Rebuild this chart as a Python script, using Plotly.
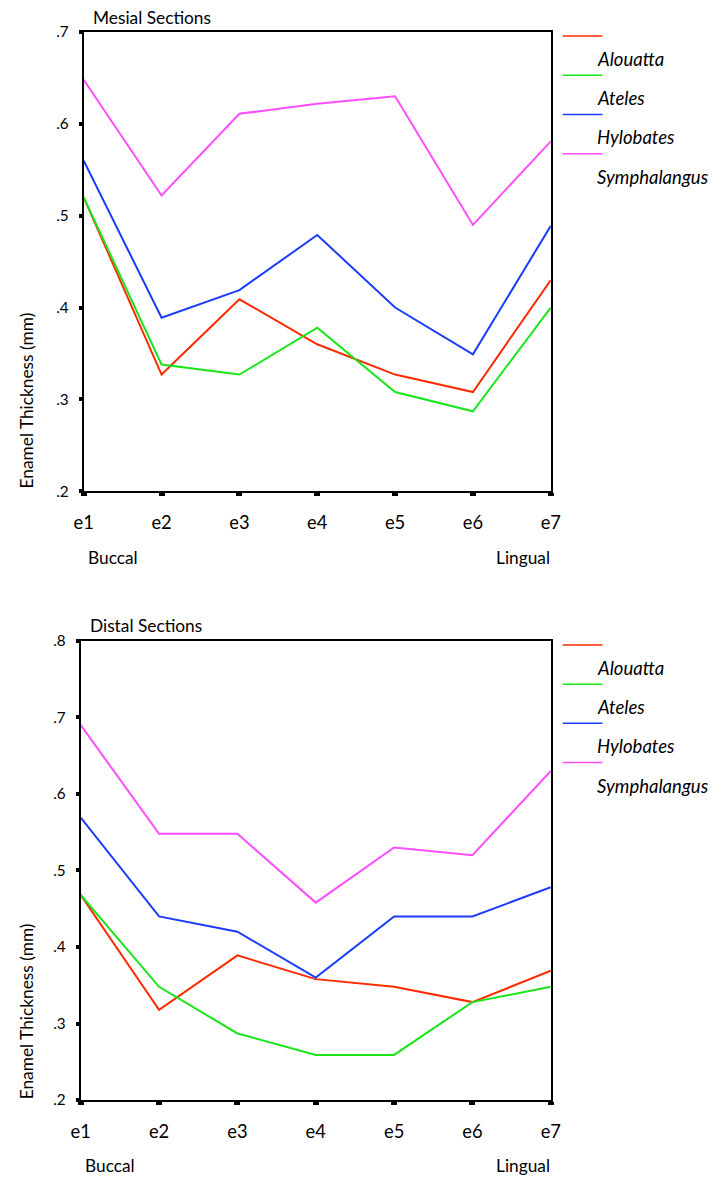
import plotly.graph_objects as go

# Enamel thickness (mm) at seven sites from buccal (e1) to lingual (e7)
sites = ["e1", "e2", "e3", "e4", "e5", "e6", "e7"]
species = ["Alouatta", "Ateles", "Hylobates", "Symphalangus"]
colors = ["#ff2a00", "#19e619", "#1a3cff", "#ff4dff"]

mesial_alouatta = [0.52, 0.327, 0.409, 0.36, 0.327, 0.308, 0.43]
mesial_ateles = [0.52, 0.338, 0.327, 0.378, 0.308, 0.287, 0.40]
mesial_hylobates = [0.56, 0.389, 0.419, 0.479, 0.40, 0.349, 0.489]
mesial_symphalangus = [0.648, 0.522, 0.611, 0.622, 0.63, 0.49, 0.581]

distal_alouatta = [0.468, 0.318, 0.389, 0.358, 0.348, 0.328, 0.369]
distal_ateles = [0.468, 0.348, 0.287, 0.259, 0.259, 0.328, 0.348]
distal_hylobates = [0.569, 0.44, 0.42, 0.36, 0.44, 0.44, 0.478]
distal_symphalangus = [0.69, 0.548, 0.548, 0.458, 0.53, 0.52, 0.63]

mesial_ticks = [0.2, 0.3, 0.4, 0.5, 0.6, 0.7]
distal_ticks = [0.2, 0.3, 0.4, 0.5, 0.6, 0.7, 0.8]

# figure size, body margin of the page, and page-to-view scale
W, H = 715, 1183
PAD = 8
SX, SY = W / (W + 2 * PAD), H / (H + 2 * PAD)
FS = 1 / ((SX + SY) / 2)
FONT = "Lato, 'Open Sans', sans-serif"


def px_x(p):
    return (p / SX - PAD) / W


def px_y(p):
    return 1 - (p / SY - PAD) / H


def f(size):
    return dict(family=FONT, size=size * FS, color="black")


fig = go.Figure()

panels = [
    dict(name="Mesial Sections", series=[mesial_alouatta, mesial_ateles, mesial_hylobates, mesial_symphalangus],
         ticks=mesial_ticks, left=82, right=552, top=30, bottom=490, ytitle=399, xa="x", ya="y"),
    dict(name="Distal Sections", series=[distal_alouatta, distal_ateles, distal_hylobates, distal_symphalangus],
         ticks=distal_ticks, left=79, right=552, top=640, bottom=1100, ytitle=1011, xa="x2", ya="y2"),
]

xpos = list(range(len(sites)))
annotations = []
shapes = []

for i, pnl in enumerate(panels):
    for vals, sp, col in zip(pnl["series"], species, colors):
        fig.add_trace(go.Scatter(x=xpos, y=vals, mode="lines", name=sp,
                                 line=dict(color=col, width=2),
                                 xaxis=pnl["xa"], yaxis=pnl["ya"], showlegend=False))
    suffix = "" if i == 0 else "2"
    axis_common = dict(showline=True, linecolor="black", linewidth=2, mirror=True,
                       showgrid=False, zeroline=False, ticks="outside", tickcolor="black")
    fig.layout["xaxis" + suffix] = dict(
        axis_common, domain=[px_x(pnl["left"]), px_x(pnl["right"])],
        range=[0, len(sites) - 1], tickvals=xpos, ticktext=sites,
        ticklen=3, tickwidth=6, ticklabelstandoff=11,
        tickfont=f(18), anchor="y" + suffix)
    fig.layout["yaxis" + suffix] = dict(
        axis_common, domain=[px_y(pnl["bottom"]), px_y(pnl["top"])],
        range=[pnl["ticks"][0], pnl["ticks"][-1]], tickvals=pnl["ticks"],
        ticktext=["." + str(round(t * 10)) for t in pnl["ticks"]],
        ticklen=3, tickwidth=4, ticklabelstandoff=7,
        tickfont=f(15), anchor="x" + suffix)

    # panel title
    annotations.append(dict(text=pnl["name"], x=px_x(pnl["left"] + 7), y=px_y(pnl["top"] - 15),
                            xref="paper", yref="paper", xanchor="left", yanchor="middle",
                            showarrow=False, font=f(17)))
    # y axis title
    annotations.append(dict(text="Enamel Thickness (mm)", x=px_x(24), y=px_y(pnl["ytitle"]),
                            xref="paper", yref="paper", xanchor="center", yanchor="middle",
                            textangle=-90, showarrow=False, font=f(17)))
    # direction labels under the x axis
    annotations.append(dict(text="Buccal", x=px_x(pnl["left"] + 2), y=px_y(pnl["bottom"] + 66),
                            xref="paper", yref="paper", xanchor="left", yanchor="middle",
                            showarrow=False, font=f(17)))
    annotations.append(dict(text="Lingual", x=px_x(pnl["right"] + 1), y=px_y(pnl["bottom"] + 66),
                            xref="paper", yref="paper", xanchor="right", yanchor="middle",
                            showarrow=False, font=f(17)))

    # key: a coloured stroke sits above each species name
    base = pnl["top"] + 4
    for k, (sp, col) in enumerate(zip(species, colors)):
        ly = base + 39.3 * k
        shapes.append(dict(type="line", xref="paper", yref="paper",
                           x0=px_x(564), x1=px_x(604), y0=px_y(ly), y1=px_y(ly),
                           line=dict(color=col, width=1.5)))
        annotations.append(dict(text="<i>" + sp + "</i>", x=px_x(596), y=px_y(ly + 23),
                                xref="paper", yref="paper", xanchor="left", yanchor="middle",
                                showarrow=False, font=f(18.2)))

fig.update_layout(width=W, height=H, margin=dict(l=0, r=0, t=0, b=0),
                  paper_bgcolor="white", plot_bgcolor="white",
                  annotations=annotations, shapes=shapes, showlegend=False)

fig.write_html("out.html")
